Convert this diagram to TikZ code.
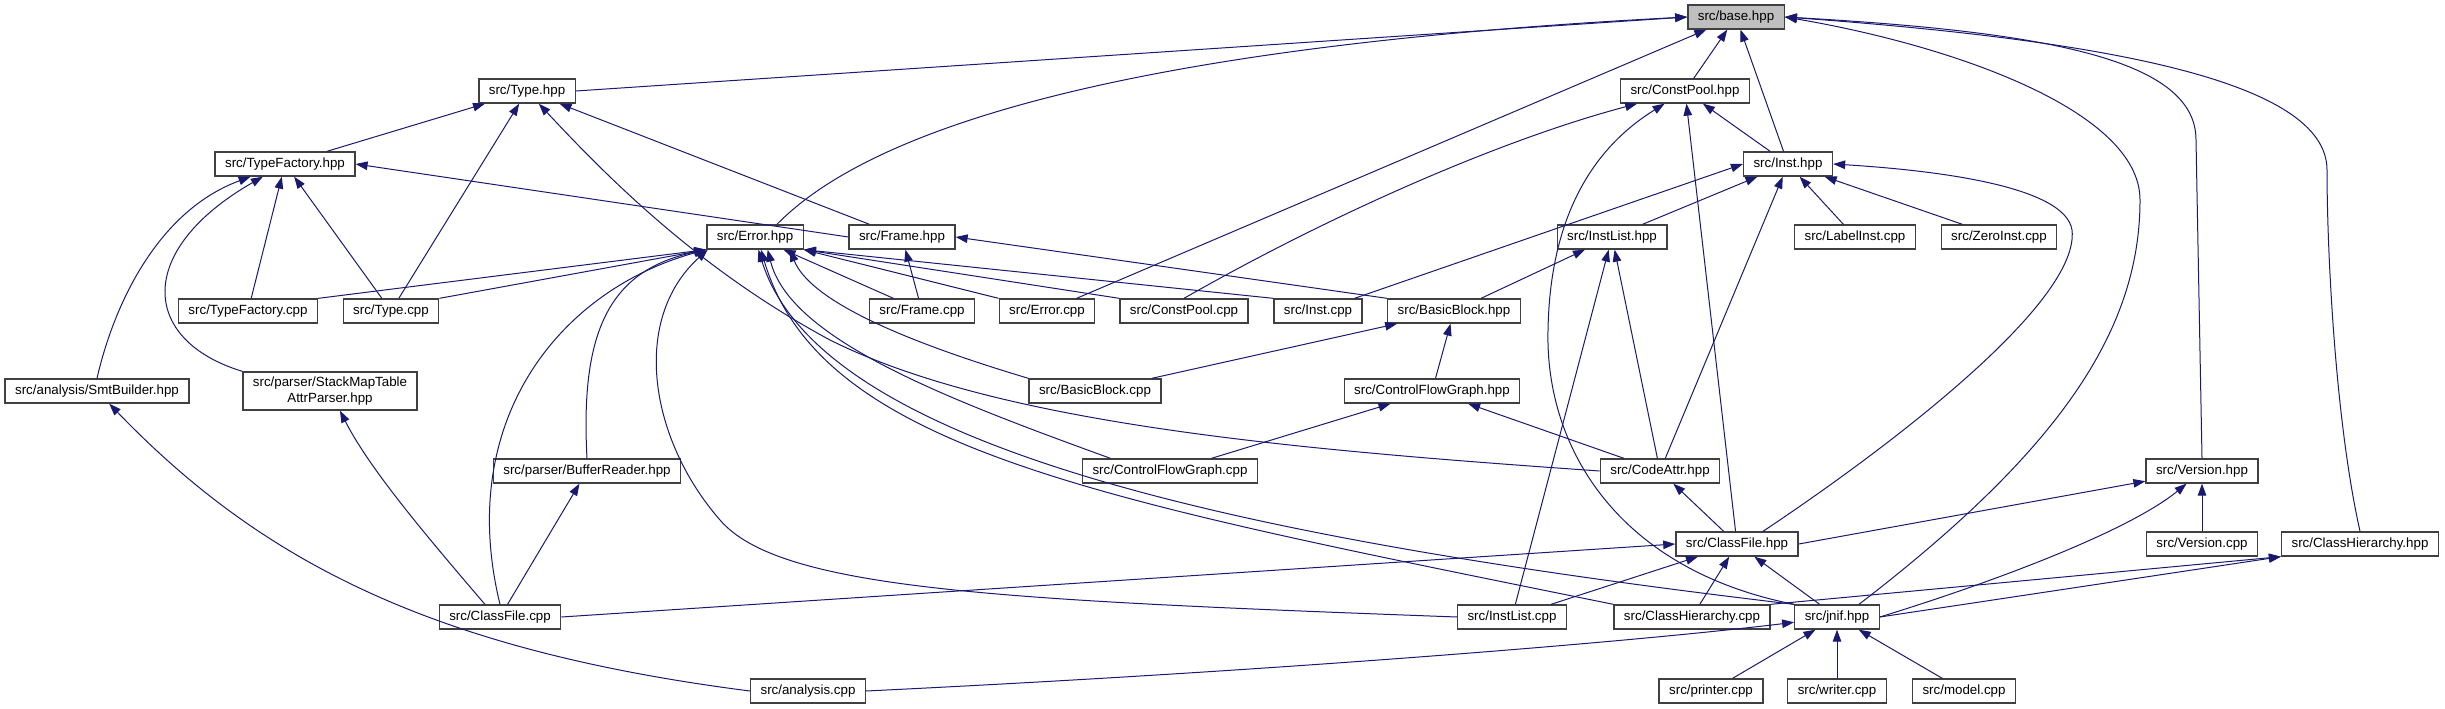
\documentclass[tikz,border=0pt]{standalone}
\usepackage{fontspec}
\setmainfont{Liberation Sans}
\usetikzlibrary{arrows.meta}
\definecolor{edgeblue}{HTML}{191970}
\definecolor{boxgray}{HTML}{404040}
\definecolor{rootgray}{HTML}{BFBFBF}

\begin{document}
\begin{tikzpicture}[x=0.75pt, y=-0.75pt, font=\fontsize{10}{12}\selectfont,
    file/.style={rectangle, draw=boxgray, line width=1pt, fill=white, inner xsep=7.5pt, inner ysep=0pt, minimum height=18pt, align=center},
    rootfile/.style={file, fill=rootgray},
    arrow/.style={draw=edgeblue, line width=0.75pt, -{Triangle[length=9pt, width=6.4pt]}}
]
    \useasboundingbox (0,0) rectangle (2445,709);

    % Place nodes
    \node [rootfile] (base) at (1736,17) {src/base.hpp};
    \node [file] (typeh) at (527,91) {src/Type.hpp};
    \node [file] (cpoolh) at (1685,91) {src/ConstPool.hpp};
    \node [file] (tfh) at (285,164) {src/TypeFactory.hpp};
    \node [file] (insth) at (1788,164) {src/Inst.hpp};
    \node [file] (errh) at (755,237) {src/Error.hpp};
    \node [file] (frameh) at (902,237) {src/Frame.hpp};
    \node [file] (ilisth) at (1612,237) {src/InstList.hpp};
    \node [file] (labelc) at (1855,237) {src/LabelInst.cpp};
    \node [file] (zeroc) at (1999,237) {src/ZeroInst.cpp};
    \node [file] (tfc) at (248,311) {src/TypeFactory.cpp};
    \node [file] (typec) at (391,311) {src/Type.cpp};
    \node [file] (framec) at (922,311) {src/Frame.cpp};
    \node [file] (errc) at (1047,311) {src/Error.cpp};
    \node [file] (cpoolc) at (1184,311) {src/ConstPool.cpp};
    \node [file] (instc) at (1318,311) {src/Inst.cpp};
    \node [file] (bbh) at (1454,311) {src/BasicBlock.hpp};
    \node [file] (smth) at (97,391) {src/analysis/SmtBuilder.hpp};
    \node [file, minimum height=28.5pt] (smtap) at (330,391) {src/parser/StackMapTable\\AttrParser.hpp};
    \node [file] (bbc) at (1095,391) {src/BasicBlock.cpp};
    \node [file] (cfgh) at (1432,391) {src/ControlFlowGraph.hpp};
    \node [file] (bufh) at (587,471) {src/parser/BufferReader.hpp};
    \node [file] (cfgc) at (1170,471) {src/ControlFlowGraph.cpp};
    \node [file] (codeh) at (1660,471) {src/CodeAttr.hpp};
    \node [file] (verh) at (2202,471) {src/Version.hpp};
    \node [file] (cfh) at (1737,544) {src/ClassFile.hpp};
    \node [file] (verc) at (2202,544) {src/Version.cpp};
    \node [file] (chh) at (2360,544) {src/ClassHierarchy.hpp};
    \node [file] (cfc) at (500,617) {src/ClassFile.cpp};
    \node [file] (ilistc) at (1512,617) {src/InstList.cpp};
    \node [file] (chc) at (1692,617) {src/ClassHierarchy.cpp};
    \node [file] (jnif) at (1837,617) {src/jnif.hpp};
    \node [file] (anac) at (808,691) {src/analysis.cpp};
    \node [file] (printc) at (1711,691) {src/printer.cpp};
    \node [file] (writec) at (1837,691) {src/writer.cpp};
    \node [file] (modelc) at (1964,691) {src/model.cpp};

    % Draw edges
    % base.hpp
    \draw [arrow] (typeh.east) -- (base.west);
    \draw [arrow] (errh.30) .. controls (850,150) and (1050,50) .. (base.west);
    \draw [arrow] (errc) -- (base);
    \draw [arrow] (cpoolh) -- (base);
    \draw [arrow] (insth) -- (base);
    \draw [arrow] (jnif.30) .. controls (2060,450) and (2140,330) .. (2140,200) .. controls (2140,110) and (1950,45) .. (base.east);
    \draw [arrow] (verh.north) -- (2196,140) .. controls (2196,60) and (2050,32) .. (base.east);
    \draw [arrow] (chh.north) .. controls (2335,420) and (2327,250) .. (2327,170) .. controls (2327,80) and (2100,40) .. (base.east);

    % Type.hpp and TypeFactory.hpp
    \draw [arrow] (tfh) -- (typeh);
    \draw [arrow] (typec) -- (typeh);
    \draw [arrow] (frameh) -- (typeh);
    \draw [arrow] (codeh.west) .. controls (1300,450) and (1000,425) .. (830,340) .. controls (700,270) and (610,180) .. (typeh);
    \draw [arrow] (smth.north) .. controls (115,300) and (160,210) .. (tfh);
    \draw [arrow] (smtap.north west) .. controls (140,340) and (135,250) .. (tfh);
    \draw [arrow] (tfc) -- (tfh);
    \draw [arrow] (typec) -- (tfh);
    \draw [arrow] (frameh.west) -- (tfh.east);

    % ConstPool.hpp and Inst.hpp
    \draw [arrow] (cpoolc.north) .. controls (1330,215) and (1500,140) .. (cpoolh);
    \draw [arrow] (jnif.north west) .. controls (1620,570) and (1545,450) .. (1548,330) .. controls (1550,220) and (1590,150) .. (cpoolh);
    \draw [arrow] (cfh) -- (cpoolh);
    \draw [arrow] (insth) -- (cpoolh);
    \draw [arrow] (instc) -- (insth.west);
    \draw [arrow] (ilisth) -- (insth);
    \draw [arrow] (codeh) -- (insth);
    \draw [arrow] (labelc) -- (insth);
    \draw [arrow] (zeroc) -- (insth);
    \draw [arrow] (cfh.26) .. controls (1900,440) and (2080,300) .. (2072,230) .. controls (2065,185) and (1930,170) .. (insth.east);

    % Frame.hpp, InstList.hpp, BasicBlock.hpp, ControlFlowGraph.hpp, CodeAttr.hpp
    \draw [arrow] (framec) -- (frameh);
    \draw [arrow] (bbh.north west) -- (frameh.east);
    \draw [arrow] (bbh) -- (ilisth);
    \draw [arrow] (ilistc) -- (ilisth);
    \draw [arrow] (codeh) -- (ilisth);
    \draw [arrow] (bbc) -- (bbh);
    \draw [arrow] (cfgh) -- (bbh);
    \draw [arrow] (cfgc) -- (cfgh);
    \draw [arrow] (codeh) -- (cfgh);
    \draw [arrow] (cfh) -- (codeh);

    % parser headers and SmtBuilder.hpp
    \draw [arrow] (cfc) -- (bufh);
    \draw [arrow] (cfc.140) .. controls (430,540) and (370,470) .. (smtap);
    \draw [arrow] (anac.west) .. controls (430,650) and (260,560) .. (smth);

    % ClassFile.hpp, Version.hpp, ClassHierarchy.hpp, jnif.hpp
    \draw [arrow] (cfc.east) -- (cfh.west);
    \draw [arrow] (ilistc) -- (cfh);
    \draw [arrow] (chc) -- (cfh);
    \draw [arrow] (jnif) -- (cfh);
    \draw [arrow] (cfh.east) -- (verh);
    \draw [arrow] (jnif.east) .. controls (2000,580) and (2130,530) .. (verh);
    \draw [arrow] (verc) -- (verh);
    \draw [arrow] (jnif.east) -- (chh.south west);
    \draw [arrow] (chc.north east) -- (chh.south west);
    \draw [arrow] (anac.east) .. controls (1300,670) and (1650,640) .. (jnif);
    \draw [arrow] (printc) -- (jnif);
    \draw [arrow] (writec) -- (jnif);
    \draw [arrow] (modelc) -- (jnif);

    % Error.hpp
    \draw [arrow] (tfc.north east) -- (errh.south west);
    \draw [arrow] (typec.north east) -- (errh.south west);
    \draw [arrow] (cfc.north) .. controls (455,420) and (560,290) .. (errh.south west);
    \draw [arrow] (bufh.north) .. controls (580,330) and (610,270) .. (errh.south west);
    \draw [arrow] (ilistc.west) .. controls (1000,600) and (780,590) .. (720,520) .. controls (650,440) and (630,320) .. (errh.-165);
    \draw [arrow] (jnif.north west) .. controls (1250,540) and (820,450) .. (errh.-75);
    \draw [arrow] (chc.north west) .. controls (1100,500) and (820,450) .. (errh.-65);
    \draw [arrow] (cfgc.168) .. controls (950,400) and (790,340) .. (errh.-45);
    \draw [arrow] (bbc.north west) .. controls (900,340) and (810,300) .. (errh.-20);
    \draw [arrow] (framec) -- (errh);
    \draw [arrow] (errc.north west) -- (errh.south east);
    \draw [arrow] (cpoolc.north west) -- (errh.south east);
    \draw [arrow] (instc.north west) -- (errh.south east);
\end{tikzpicture}
\end{document}
